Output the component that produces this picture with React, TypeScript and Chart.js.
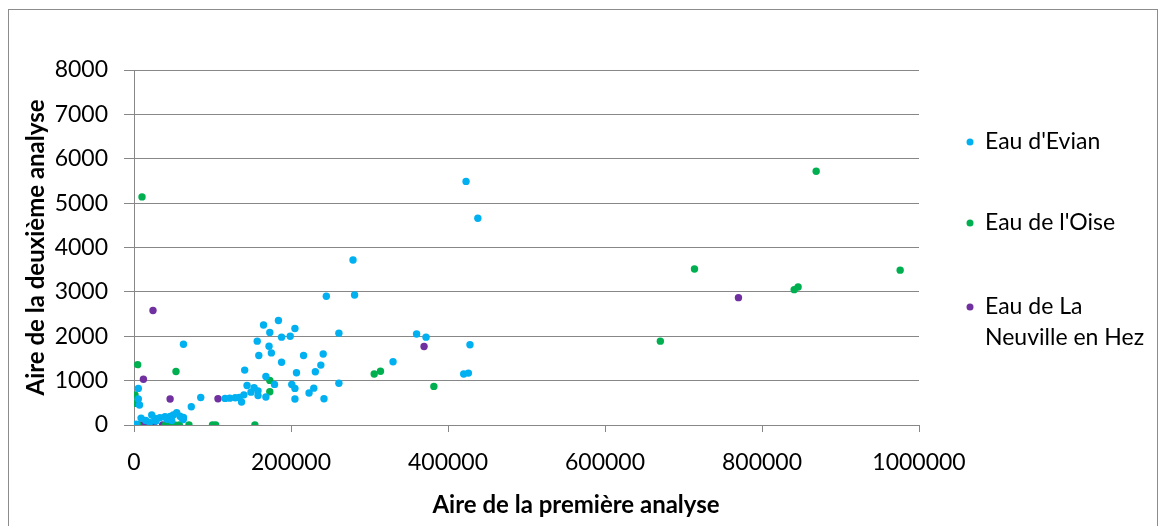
import React, { useEffect, useRef } from "react";
import { Chart, registerables } from "chart.js";

Chart.register(...registerables);

const seriesNames = ["Eau d'Evian", "Eau de l'Oise", "Eau de La Neuville en Hez"];
const legendLines = [["Eau d'Evian"], ["Eau de l'Oise"], ["Eau de La", "Neuville en Hez"]];
const seriesColors = ["#00B0F0", "#00B050", "#7030A0"];

const evianX = [423000, 438000, 279000, 245000, 281000, 261000, 360000, 372000, 428000, 241000, 238000, 330000, 420000, 426000, 261000, 242000, 184000, 165000, 173000, 205000, 188000, 199000, 63000, 157000, 172000, 175000, 159000, 216000, 188000, 231000, 207000, 141000, 168000, 179000, 144000, 201000, 205000, 153000, 158000, 149000, 158000, 140000, 168000, 229000, 223000, 205000, 116000, 122000, 129000, 134000, 137000, 85000, 73000, 63000, 5500, 5500, 7000, 0, 9000, 22600, 26800, 33000, 39500, 46000, 50000, 54400, 58600, 62800, 60800, 15000, 3000, 20000, 28000, 42000, 48000];
const evianY = [5490, 4660, 3720, 2900, 2930, 2070, 2050, 1980, 1810, 1600, 1350, 1425, 1150, 1170, 940, 590, 2355, 2255, 2085, 2175, 1980, 2000, 1820, 1890, 1775, 1625, 1565, 1565, 1415, 1200, 1177, 1237, 1095, 915, 890, 915, 825, 840, 770, 740, 665, 680, 630, 830, 720, 585, 600, 605, 615, 620, 517, 620, 410, 170, 825, 585, 450, 0, 155, 225, 150, 165, 187, 190, 225, 277, 200, 125, 165, 100, 20, 60, 90, 130, 100];

const oiseX = [10200, 4700, 1300, 2200, 53500, 306000, 314000, 382000, 173000, 173000, 869000, 714000, 976000, 841000, 846000, 670500, 40000, 46000, 52000, 57700, 70000, 100000, 104000, 154000, 5000];
const oiseY = [5140, 1360, 675, 490, 1205, 1150, 1210, 870, 1005, 750, 5720, 3515, 3490, 3050, 3110, 1890, 0, 0, 0, 0, 0, 0, 0, 0, 0];

const neuvilleX = [24200, 12000, 46000, 107000, 369500, 770000, 1300, 7600, 12000, 20000, 24600, 36500];
const neuvilleY = [2580, 1030, 585, 590, 1770, 2870, 0, 0, 0, 0, 0, 0];

const xTitle = "Aire de la première analyse";
const yTitle = "Aire de la deuxième analyse";
const xMax = 1000000;
const xStep = 200000;
const yMax = 8000;
const yStep = 1000;

const toPoints = (xs: number[], ys: number[]) => xs.map((x, i) => ({ x, y: ys[i] }));

const FONT = "Lato, 'Noto Sans', sans-serif";
const GRID = "#878787";

export default function App() {
  const ref = useRef<HTMLCanvasElement | null>(null);

  useEffect(() => {
    if (!ref.current) return;
    const legendPlugin = {
      id: "sideLegend",
      afterDraw(chart: any) {
        const { ctx, chartArea } = chart;
        const offsets = [[72], [153], [237, 268]];
        ctx.save();
        ctx.font = `23px ${FONT}`;
        ctx.textBaseline = "middle";
        ctx.textAlign = "left";
        legendLines.forEach((lines, i) => {
          const y0 = chartArea.top + offsets[i][0];
          ctx.fillStyle = seriesColors[i];
          ctx.beginPath();
          ctx.arc(chartArea.right + 51, y0, 3.5, 0, Math.PI * 2);
          ctx.fill();
          ctx.fillStyle = "#000";
          lines.forEach((t, j) => {
            ctx.fillText(t, chartArea.right + 66, chartArea.top + offsets[i][j]);
          });
        });
        // x axis title, centred on the whole chart box as in the original
        ctx.font = `bold 24px ${FONT}`;
        ctx.textAlign = "center";
        ctx.fillText(xTitle, chart.width / 2 - 7, chartArea.bottom + 80);
        ctx.restore();
      },
    };

    const chart = new Chart(ref.current, {
      type: "scatter",
      data: {
        datasets: [
          { label: seriesNames[0], data: toPoints(evianX, evianY), backgroundColor: seriesColors[0], borderWidth: 0, pointRadius: 3.7 },
          { label: seriesNames[1], data: toPoints(oiseX, oiseY), backgroundColor: seriesColors[1], borderWidth: 0, pointRadius: 3.7 },
          { label: seriesNames[2], data: toPoints(neuvilleX, neuvilleY), backgroundColor: seriesColors[2], borderWidth: 0, pointRadius: 3.7 },
        ],
      },
      options: {
        animation: false,
        responsive: false,
        devicePixelRatio: 1,
        layout: { padding: { top: 60, right: 238, left: 0, bottom: 0 } },
        plugins: { legend: { display: false }, tooltip: { enabled: false } },
        scales: {
          x: {
            type: "linear",
            min: 0,
            max: xMax,
            afterFit: (s: any) => { s.height = 101; },
            ticks: { stepSize: xStep, color: "#000", font: { family: FONT, size: 23 }, padding: 17, maxRotation: 0, callback: (v: any) => String(v) },
            grid: { drawOnChartArea: false, color: GRID, tickLength: 7, tickColor: GRID },
            border: { color: GRID, width: 1 },
            title: { display: false },
          },
          y: {
            type: "linear",
            min: 0,
            max: yMax,
            afterFit: (s: any) => { s.width = 125; },
            ticks: { stepSize: yStep, color: "#000", font: { family: FONT, size: 23 }, padding: 16, callback: (v: any) => String(v) },
            grid: { color: GRID, tickLength: 10, tickColor: GRID },
            border: { color: GRID, width: 1 },
            title: { display: true, text: yTitle, color: "#000", font: { family: FONT, size: 24, weight: "bold" }, padding: { top: 13, bottom: 0 } },
          },
        },
      },
      plugins: [legendPlugin],
    } as any);
    return () => chart.destroy();
  }, []);

  return (
    <div style={{ marginTop: 1, width: 1148, height: 530, border: "1px solid #8c8c8c", overflow: "hidden" }}>
      <canvas ref={ref} width={1148} height={516} style={{ display: "block", width: 1148, height: 516 }} />
    </div>
  );
}
